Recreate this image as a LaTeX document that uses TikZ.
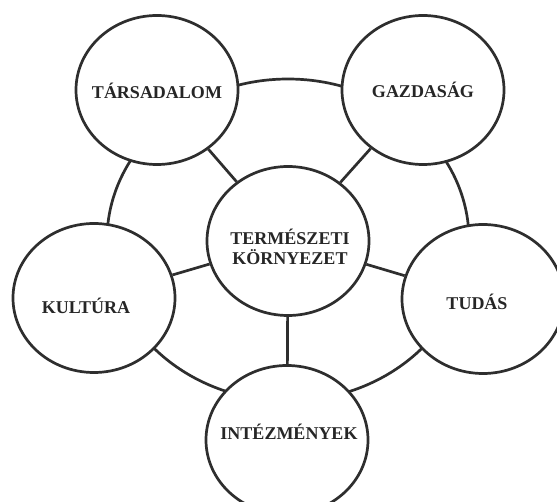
\documentclass[tikz,border=0pt]{standalone}
\usepackage{fontspec}
\setmainfont{Liberation Serif}
\usetikzlibrary{shapes.geometric,calc}
\definecolor{ink}{HTML}{2E2E2E}
\definecolor{type}{HTML}{262626}
\tikzset{
  blob/.style={ellipse, draw=ink, line width=2.7pt, fill=white,
               minimum width=162pt, minimum height=149pt, inner sep=0pt},
  link/.style={draw=ink, line width=2.7pt},
  caption/.style={text=type, font=\bfseries\fontsize{18}{20}\selectfont,
                  align=center, inner sep=0pt},
}
\begin{document}
\begin{tikzpicture}[x=1pt, y=-1pt]
  \useasboundingbox[fill=white] (0,0) rectangle (557,502);

  % outer ring linking the five surrounding spheres
  \draw[link] (288,240) ellipse [x radius=181, y radius=161];

  % centre and the five spheres
  \node[blob] (env)  at (288,241) {};
  \node[blob] (soc)  at (157,90)  {};
  \node[blob] (eco)  at (423,90)  {};
  \node[blob] (cul)  at (94,298)  {};
  \node[blob] (know) at (483,299) {};
  \node[blob] (inst) at (287,440) {};

  % spokes from the centre
  \foreach \n in {soc,eco,cul,know,inst}
    \draw[link] (env) -- (\n);

  % names
  \node[caption] (envT)  at ($(env)+(2,6)$)   {TERMÉSZETI\\KÖRNYEZET};
  \node[caption] (socT)  at ($(soc)+(0,1)$)   {TÁRSADALOM};
  \node[caption] (ecoT)  at ($(eco)+(0,0)$)   {GAZDASÁG};
  \node[caption] (culT)  at ($(cul)+(-8,8)$)  {KULTÚRA};
  \node[caption] (knowT) at ($(know)+(-6,3)$) {TUDÁS};
  \node[caption] (instT) at ($(inst)+(2,-8)$) {INTÉZMÉNYEK};
\end{tikzpicture}
\end{document}
